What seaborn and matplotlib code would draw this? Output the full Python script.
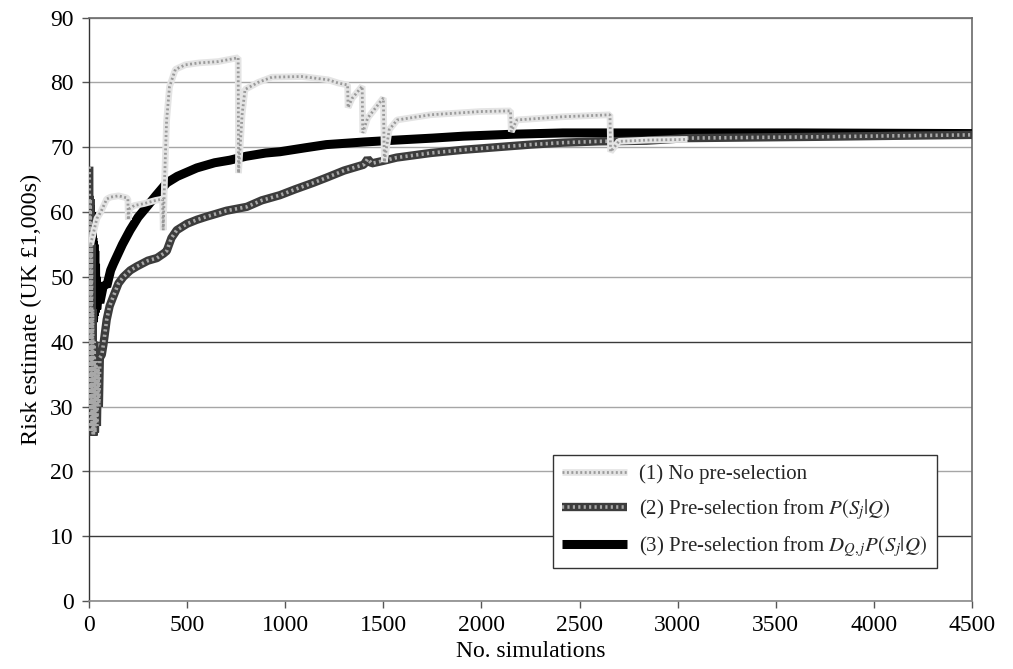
import matplotlib
matplotlib.use("Agg")
import matplotlib.pyplot as plt
import numpy as np
import pandas as pd
import seaborn as sns

# (1) No pre-selection
n_none = [8, 20, 40, 60, 90, 110, 150, 190, 198, 200, 205, 230, 280, 340, 375, 378,
          385, 395, 410, 440, 490, 560, 657, 760, 762, 780, 795, 862, 932, 1085,
          1218, 1270, 1318, 1320, 1340, 1392, 1395, 1420, 1500, 1505, 1530, 1570,
          1740, 1995, 2148, 2152, 2180, 2417, 2655, 2658, 2700, 2850, 3050]
risk_none = [55.0, 56.5, 59.0, 60.0, 62.0, 62.3, 62.5, 62.2, 62.0, 58.8, 60.5, 61.0,
             61.3, 61.8, 62.0, 57.2, 65.0, 74.0, 79.3, 82.0, 82.7, 83.0, 83.2, 83.8,
             66.0, 75.0, 78.9, 80.0, 80.8, 80.9, 80.4, 79.9, 79.6, 76.1, 77.5, 79.4,
             72.2, 74.5, 77.6, 67.7, 72.7, 74.2, 75.0, 75.5, 75.6, 72.4, 74.2, 74.7,
             75.0, 69.3, 70.9, 71.1, 71.2]

# (2) Pre-selection from P(Sj|Q)
n_pq = [1, 3, 6, 9, 12, 15, 18, 22, 26, 30, 35, 40, 45, 50, 55, 65, 73, 90, 105,
        124, 150, 175, 210, 243, 300, 346, 380, 396, 420, 447, 500, 549, 600, 634,
        700, 804, 880, 973, 1050, 1142, 1210, 1300, 1400, 1420, 1440, 1500, 1568,
        1740, 1908, 2078, 2250, 2415, 2600, 2840, 3047, 3708, 4220, 4500]
risk_pq = [67.0, 30.0, 62.0, 26.0, 55.0, 27.0, 45.0, 25.5, 40.0, 26.0, 37.0, 27.0,
           36.0, 30.0, 37.5, 38.0, 39.5, 43.4, 45.5, 47.0, 49.0, 50.0, 51.0, 51.6,
           52.5, 52.9, 53.6, 54.0, 56.0, 57.2, 58.2, 58.8, 59.3, 59.6, 60.2, 60.8,
           61.8, 62.6, 63.5, 64.5, 65.3, 66.4, 67.3, 68.2, 67.5, 67.9, 68.4, 69.1,
           69.6, 70.0, 70.4, 70.7, 70.9, 71.0, 71.4, 71.6, 71.8, 71.9]

# (3) Pre-selection from D_Q,j P(Sj|Q)
n_dpq = [1, 2, 4, 5, 7, 8, 10, 11, 13, 14, 16, 17, 19, 20, 22, 23, 25, 27, 29, 31,
         33, 35, 37, 39, 45, 55, 65, 75, 90, 110, 124, 170, 209, 250, 294, 340, 396,
         450, 549, 640, 718, 800, 900, 973, 1100, 1210, 1400, 1568, 1750, 1908, 2160,
         2415, 3000, 3600, 4500]
risk_dpq = [62.5, 42.5, 62.0, 42.0, 61.0, 42.5, 60.0, 42.0, 58.0, 43.0, 57.0, 42.5,
            56.0, 43.0, 55.5, 43.5, 55.0, 44.0, 54.0, 44.5, 52.0, 45.0, 50.0, 45.0,
            47.0, 46.0, 47.5, 49.0, 48.5, 51.0, 52.0, 55.0, 57.2, 59.2, 60.8, 62.5,
            64.5, 65.5, 66.8, 67.6, 68.0, 68.6, 69.1, 69.3, 69.9, 70.4, 70.8, 71.1,
            71.4, 71.7, 72.0, 72.2, 72.2, 72.2, 72.1]

labels = ["(1) No pre-selection",
          "(2) Pre-selection from $P(S_j|Q)$",
          "(3) Pre-selection from $D_{Q,j}P(S_j|Q)$"]

sns.set_theme(style="white")
plt.rcParams["font.family"] = ["Liberation Serif", "DejaVu Serif"]
plt.rcParams["mathtext.fontset"] = "stix"

fig = plt.figure(figsize=(10.13, 6.69), dpi=100)
ax = fig.add_axes([0.0879, 0.1016, 0.8716, 0.8722])

def frame(n, r):
    return pd.DataFrame({"n": n, "risk": r})

common = dict(x="n", y="risk", estimator=None, sort=False, ax=ax, legend=False,
              solid_capstyle="butt", dash_capstyle="butt",
              solid_joinstyle="bevel", dash_joinstyle="bevel")

# black solid series (bottom layer)
sns.lineplot(data=frame(n_dpq, risk_dpq), color="black", lw=6.5, zorder=3, **common)
h3 = ax.lines[-1]

# dark textured series
sns.lineplot(data=frame(n_pq, risk_pq), color="#3c3c3c", lw=6, zorder=4, **common)
h2a = ax.lines[-1]
sns.lineplot(data=frame(n_pq, risk_pq), color="#a8a8a8", lw=2.6,
             linestyle=(0, (0.6, 0.9)), zorder=4.1, **common)
h2b = ax.lines[-1]

# light dotted series (top layer)
sns.lineplot(data=frame(n_none, risk_none), color="#e4e4e4", lw=4.8, zorder=5, **common)
h1a = ax.lines[-1]
sns.lineplot(data=frame(n_none, risk_none), color="#9a9a9a", lw=2.0,
             linestyle=(0, (0.7, 0.9)), zorder=5.1, **common)
h1b = ax.lines[-1]

ax.set_xlim(0, 4500)
ax.set_ylim(0, 90)
ax.set_xticks(np.arange(0, 4501, 500))
ax.set_yticks(np.arange(0, 91, 10))

ax.grid(axis="y", color="#a6a6a6", lw=1.0)
for val, gl in zip(ax.get_yticks(), ax.get_ygridlines()):
    if val in (10, 40):
        gl.set_color("#3a3a3a")
ax.set_axisbelow(True)

for side in ("top", "right"):
    ax.spines[side].set_color("#6a6a6a")
    ax.spines[side].set_linewidth(1.2)
ax.spines["left"].set_color("#333333")
ax.spines["left"].set_linewidth(1.0)
ax.spines["bottom"].set_color("#8a8a8a")
ax.spines["bottom"].set_linewidth(1.2)

ax.tick_params(axis="both", direction="out", length=5, width=1, color="#555555",
               labelsize=17, bottom=True, left=True, labelcolor="black")
ax.tick_params(axis="y", pad=6)
ax.tick_params(axis="x", pad=5)

ax.set_xlabel("No. simulations", fontsize=17, labelpad=4, color="black")
ax.set_ylabel("Risk estimate (UK £1,000s)", fontsize=17.5, labelpad=6, color="black")

leg = ax.legend([(h1a, h1b), (h2a, h2b), h3], labels,
                loc="lower right", bbox_to_anchor=(0.96, 0.056),
                fontsize=15, frameon=True, fancybox=False, framealpha=1,
                edgecolor="#333333", handlelength=3.1, handletextpad=0.6,
                labelspacing=0.6, borderpad=0.45, borderaxespad=0)
leg.get_frame().set_linewidth(1.0)
leg.set_zorder(10)

fig.savefig("out.png", dpi=100)
